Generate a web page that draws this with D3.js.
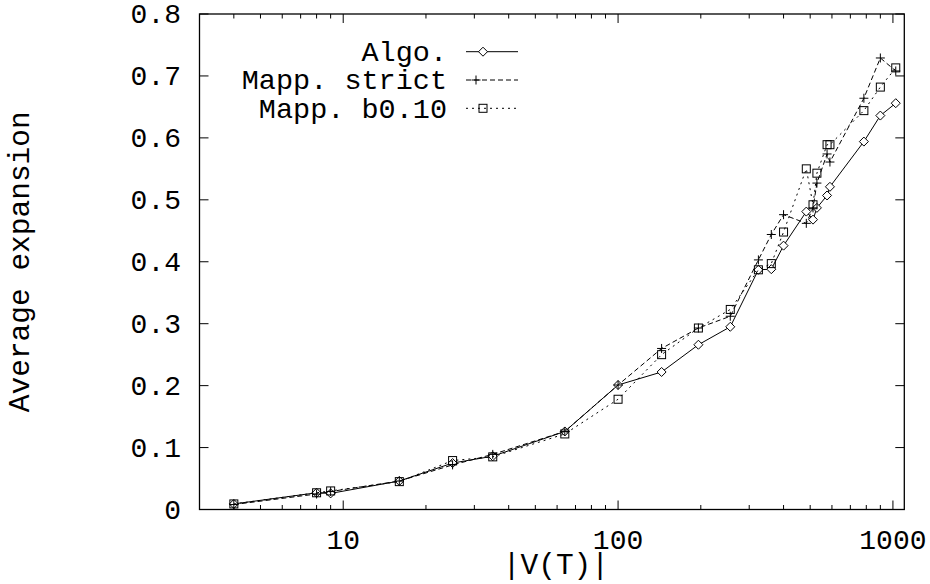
<!DOCTYPE html>
<html><head><meta charset="utf-8">
<script src="https://cdn.jsdelivr.net/npm/d3@7"></script>
<style>body{margin:0;background:#fff}svg{display:block}text{font-family:"Liberation Mono","DejaVu Sans Mono",monospace;fill:#000}</style>
</head><body>
<svg id="c" width="930" height="584"></svg>
<script>
const sizes  = [4, 8, 9, 16, 25, 35, 64, 100, 144, 196, 256, 324, 361, 400, 484, 512, 529, 576, 590, 784, 900, 1024];
const algo   = [0.009, 0.027, 0.026, 0.046, 0.075, 0.086, 0.126, 0.201, 0.222, 0.266, 0.295, 0.387, 0.388, 0.426, 0.481, 0.468, 0.487, 0.507, 0.521, 0.594, 0.636, 0.656];
const strict = [0.008, 0.025, 0.029, 0.046, 0.072, 0.089, 0.126, 0.201, 0.260, 0.293, 0.312, 0.403, 0.444, 0.476, 0.462, 0.487, 0.527, 0.574, 0.561, 0.664, 0.729, 0.708];
const b010   = [0.009, 0.027, 0.030, 0.045, 0.079, 0.085, 0.122, 0.178, 0.250, 0.293, 0.323, 0.387, 0.397, 0.448, 0.550, 0.492, 0.543, 0.589, 0.589, 0.644, 0.682, 0.713];
const seriesNames = ["Algo.", "Mapp. strict", "Mapp. b0.10"];
const yTicks = [0, 0.1, 0.2, 0.3, 0.4, 0.5, 0.6, 0.7, 0.8];
const yTickLabels = ["0", "0.1", "0.2", "0.3", "0.4", "0.5", "0.6", "0.7", "0.8"];
const xTicks = [10, 100, 1000];
const xTickLabels = ["10", "100", "1000"];
const xLabel = "|V(T)|";
const yLabel = "Average expansion";

const svg = d3.select("#c");
const L = 199.5, R = 904.3, T = 14, B = 509.5;
const x = d3.scaleLog().domain([3, 1100]).range([L, R]);
const y = d3.scaleLinear().domain([0, 0.8]).range([B, T]);
const FS = 28, FL = 29.5, FG = 28.5;

// minor ticks
const minor = [];
for (let d = 1; d <= 1000; d *= 10) for (let k = 2; k <= 9; k++) { const v = d * k; if (v > 3 && v < 1100 && !xTicks.includes(v)) minor.push(v); }
const tk = svg.append("g").attr("stroke", "#000").attr("stroke-width", 1);
minor.forEach(v => {
  tk.append("line").attr("x1", x(v)).attr("x2", x(v)).attr("y1", B).attr("y2", B - 4.5);
  tk.append("line").attr("x1", x(v)).attr("x2", x(v)).attr("y1", T).attr("y2", T + 4.5);
});
xTicks.forEach((v, i) => {
  tk.append("line").attr("x1", x(v)).attr("x2", x(v)).attr("y1", B).attr("y2", B - 9);
  tk.append("line").attr("x1", x(v)).attr("x2", x(v)).attr("y1", T).attr("y2", T + 9);
  svg.append("text").attr("x", x(v)).attr("y", 548.5).attr("text-anchor", "middle").attr("font-size", FS).text(xTickLabels[i]);
});
yTicks.forEach((v, i) => {
  tk.append("line").attr("x1", L).attr("x2", L + 9).attr("y1", y(v)).attr("y2", y(v));
  tk.append("line").attr("x1", R).attr("x2", R - 9).attr("y1", y(v)).attr("y2", y(v));
  svg.append("text").attr("x", 181).attr("y", y(v)).attr("dy", "0.33em").attr("text-anchor", "end").attr("font-size", FS).text(yTickLabels[i]);
});
svg.append("rect").attr("x", L).attr("y", T).attr("width", R - L).attr("height", B - T)
  .attr("fill", "none").attr("stroke", "#000").attr("stroke-width", 1.3);

svg.append("text").attr("x", (L + R) / 2 + 4).attr("y", 574).attr("text-anchor", "middle").attr("font-size", FL).text(xLabel);
svg.append("text").attr("transform", `translate(29,${(T + B) / 2}) rotate(-90)`).attr("text-anchor", "middle").attr("font-size", FL).text(yLabel);

const styles = [
  { data: algo, dash: null, marker: "diamond" },
  { data: strict, dash: "5,3", marker: "plus" },
  { data: b010, dash: "2,4", marker: "square" }
];
function drawMarker(g, type, cx, cy) {
  if (type === "diamond") g.append("path").attr("d", `M${cx},${cy-4.5}L${cx+4.5},${cy}L${cx},${cy+4.5}L${cx-4.5},${cy}Z`).attr("fill", "#fff").attr("stroke", "#000");
  else if (type === "plus") g.append("path").attr("d", `M${cx-4.5},${cy}H${cx+4.5}M${cx},${cy-4.5}V${cy+4.5}`).attr("fill", "none").attr("stroke", "#000");
  else g.append("rect").attr("x", cx - 4).attr("y", cy - 4).attr("width", 8).attr("height", 8).attr("fill", "none").attr("stroke", "#000");
}
const line = d3.line().x(d => x(d[0])).y(d => y(d[1]));
styles.forEach(s => {
  const pts = sizes.map((v, i) => [v, s.data[i]]);
  svg.append("path").datum(pts).attr("d", line).attr("fill", "none").attr("stroke", "#000").attr("stroke-width", 1)
    .attr("stroke-dasharray", s.dash);
  const g = svg.append("g").attr("stroke-width", 1);
  pts.forEach(p => drawMarker(g, s.marker, x(p[0]), y(p[1])));
});

// legend
const legY = [51.7, 80, 108.3];
const legMarkX = [483, 476, 483];
seriesNames.forEach((n, i) => {
  svg.append("text").attr("x", 447).attr("y", legY[i]).attr("dy", "0.33em").attr("text-anchor", "end").attr("font-size", FG).text(n);
  svg.append("line").attr("x1", 466).attr("x2", 518).attr("y1", legY[i]).attr("y2", legY[i]).attr("stroke", "#000").attr("stroke-width", 1)
    .attr("stroke-dasharray", styles[i].dash);
  drawMarker(svg.append("g").attr("stroke-width", 1), styles[i].marker, legMarkX[i], legY[i]);
});
</script>
</body></html>
